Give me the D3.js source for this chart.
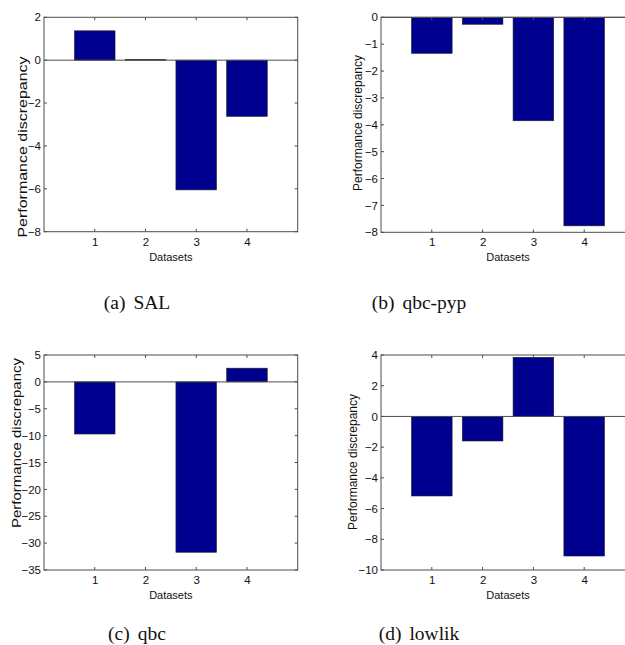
<!DOCTYPE html>
<html>
<head>
<meta charset="utf-8">
<script src="https://cdn.jsdelivr.net/npm/d3@7"></script>
<style>
  html, body { margin: 0; padding: 0; background: #fff; }
  svg { display: block; }
</style>
</head>
<body>
<svg id="fig" width="625" height="645"></svg>
<script>
// Dataset indices on the x axis
const datasets = [1, 2, 3, 4];

// Performance discrepancy per dataset, one array per method
const salValues    = [1.37, 0.03, -6.05, -2.62];
const qbcPypValues = [-1.34, -0.26, -3.85, -7.76];
const qbcValues    = [-9.7, 0, -31.7, 2.55];
const lowlikValues = [-5.18, -1.6, 3.85, -9.09];

// Y tick labels for each panel
const salTicks    = [2, 0, -2, -4, -6, -8];
const qbcPypTicks = [0, -1, -2, -3, -4, -5, -6, -7, -8];
const qbcTicks    = [5, 0, -5, -10, -15, -20, -25, -30, -35];
const lowlikTicks = [4, 2, 0, -2, -4, -6, -8, -10];

// Sub-figure captions
const captionLetters = ["(a)", "(b)", "(c)", "(d)"];
const captionNames   = ["SAL", "qbc-pyp", "qbc", "lowlik"];

const xLabel = "Datasets";
const yLabel = "Performance discrepancy";

const svg = d3.select("#fig");

// Panel geometry (plot box in pixels), y-label placement and caption anchor
const layout = [
  { x0: 44,  x1: 297.7, y0: 17.3, y1: 231.7, ylabSize: 16, ylabSquash: 0.8, ylabX: 23,  ylabY: 147, capX: 137, capY: 302 },
  { x0: 381, x1: 635,   y0: 17.3, y1: 232.3, ylabSize: 12, ylabSquash: 1,   ylabX: 358, ylabY: 123, capX: 419, capY: 302 },
  { x0: 44,  x1: 297.7, y0: 355,  y1: 570,   ylabSize: 15, ylabSquash: 0.8, ylabX: 17,  ylabY: 443, capX: 137, capY: 633 },
  { x0: 381, x1: 635,   y0: 355,  y1: 570,   ylabSize: 12, ylabSquash: 1,   ylabX: 353, ylabY: 462, capX: 419, capY: 633 }
];

const panels = [
  { values: salValues,    ticks: salTicks },
  { values: qbcPypValues, ticks: qbcPypTicks },
  { values: qbcValues,    ticks: qbcTicks },
  { values: lowlikValues, ticks: lowlikTicks }
];

const axisColor = "#4d4d4d";
const barFill = "#00008f";
const textColor = "#111";
const sansFont = "Liberation Sans, Arial, sans-serif";

panels.forEach((p, i) => {
  const L = layout[i];
  const g = svg.append("g");

  const x = d3.scaleLinear().domain([0, 5]).range([L.x0, L.x1]);
  const y = d3.scaleLinear().domain([d3.min(p.ticks), d3.max(p.ticks)]).range([L.y1, L.y0]);

  const barW = x(0.8) - x(0);

  // bars, drawn from the zero baseline
  g.selectAll("rect.bar")
    .data(datasets.map((d, k) => ({ d, v: p.values[k] })))
    .join("rect")
    .attr("class", "bar")
    .attr("x", d => x(d.d) - barW / 2)
    .attr("width", barW)
    .attr("y", d => Math.min(y(0), y(d.v)))
    .attr("height", d => Math.abs(y(d.v) - y(0)))
    .attr("fill", barFill)
    .attr("stroke", d => d.v === 0 ? "none" : "#222")
    .attr("stroke-width", 0.6);

  // zero baseline
  g.append("line")
    .attr("x1", L.x0).attr("x2", L.x1)
    .attr("y1", y(0)).attr("y2", y(0))
    .attr("stroke", axisColor).attr("stroke-width", 1);

  // tick labels
  const left = d3.axisLeft(y).tickValues(p.ticks).tickSize(0).tickPadding(3).tickFormat(d3.format("d"));
  const bottom = d3.axisBottom(x).tickValues(datasets).tickSize(0).tickPadding(6).tickFormat(d3.format("d"));

  const ga = g.append("g").attr("transform", `translate(${L.x0},0)`).call(left);
  ga.select(".domain").remove();
  ga.selectAll("text").attr("font-family", sansFont).attr("font-size", 11.5).attr("fill", textColor);

  const gb = g.append("g").attr("transform", `translate(0,${L.y1})`).call(bottom);
  gb.select(".domain").remove();
  gb.selectAll("text").attr("font-family", sansFont).attr("font-size", 11.5).attr("fill", textColor);

  // inward tick marks, mirrored on the opposite sides of the box
  const tickLen = 3;
  p.ticks.forEach(t => {
    g.append("line").attr("x1", L.x0).attr("x2", L.x0 + tickLen).attr("y1", y(t)).attr("y2", y(t)).attr("stroke", axisColor);
    g.append("line").attr("x1", L.x1).attr("x2", L.x1 - tickLen).attr("y1", y(t)).attr("y2", y(t)).attr("stroke", axisColor);
  });
  datasets.forEach(t => {
    g.append("line").attr("x1", x(t)).attr("x2", x(t)).attr("y1", L.y1).attr("y2", L.y1 - tickLen).attr("stroke", axisColor);
    g.append("line").attr("x1", x(t)).attr("x2", x(t)).attr("y1", L.y0).attr("y2", L.y0 + tickLen).attr("stroke", axisColor);
  });

  // box
  g.append("rect")
    .attr("x", L.x0).attr("y", L.y0)
    .attr("width", L.x1 - L.x0).attr("height", L.y1 - L.y0)
    .attr("fill", "none").attr("stroke", axisColor).attr("stroke-width", 1);

  // axis labels
  g.append("text")
    .attr("x", (L.x0 + L.x1) / 2)
    .attr("y", L.y1 + 29)
    .attr("text-anchor", "middle")
    .attr("font-family", sansFont).attr("font-size", 11).attr("fill", textColor)
    .text(xLabel);

  g.append("text")
    .attr("transform", `translate(${L.ylabX},${L.ylabY}) rotate(-90) scale(1,${L.ylabSquash})`)
    .attr("text-anchor", "middle")
    .attr("dominant-baseline", "central")
    .attr("font-family", sansFont).attr("font-size", L.ylabSize).attr("fill", textColor)
    .text(yLabel);

  // caption
  const cap = svg.append("text")
    .attr("x", L.capX).attr("y", L.capY)
    .attr("text-anchor", "middle")
    .attr("dominant-baseline", "central")
    .attr("font-family", "Liberation Serif, DejaVu Serif, serif")
    .attr("font-size", 19.5).attr("fill", textColor);
  cap.append("tspan").text(captionLetters[i]);
  cap.append("tspan").attr("dx", 8).text(captionNames[i]);
});
</script>
</body>
</html>
